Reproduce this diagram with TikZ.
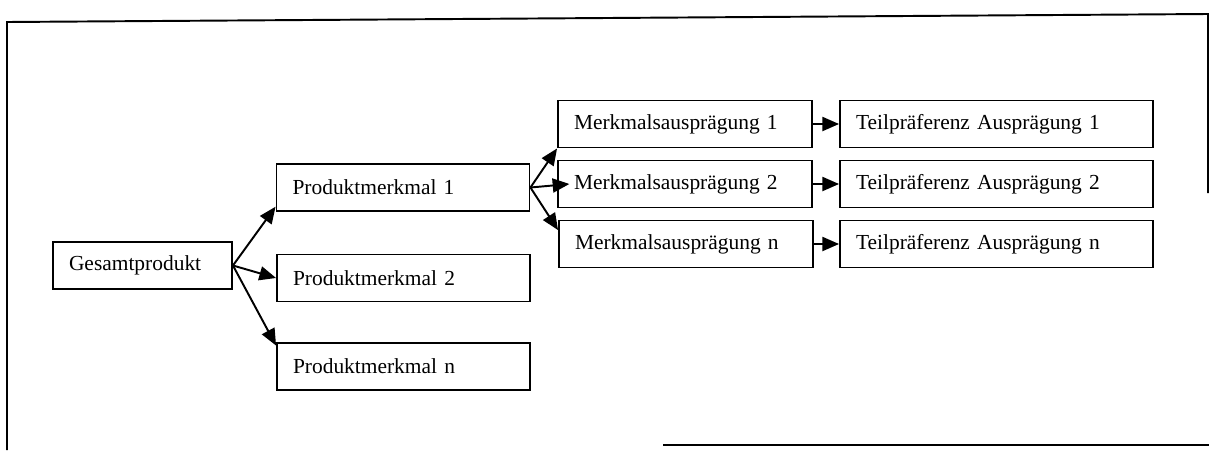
\documentclass[tikz,border=0pt]{standalone}
\usepackage{fontspec}
\setmainfont{Liberation Serif}
\usetikzlibrary{arrows.meta}

\begin{document}
\begin{tikzpicture}[x=0.02cm, y=-0.02cm,
    box/.style={rectangle, draw, line width=1.1pt, minimum height=0.94cm, text width=#1,
                align=left, inner xsep=0.32cm, font=\fontsize{12.2}{14}\selectfont},
    arr/.style={-{Triangle[length=9.5pt, width=8pt]}, line width=1.1pt},
    frame/.style={line width=1.1pt}
]
    \useasboundingbox (0,0) rectangle (1209,450);

    % frame of the scan
    \draw[frame] (7,450) -- (7,22) -- (1208,14) -- (1208,193);
    \draw[frame] (663,445) -- (1209,445);

    \node[box=2.94cm] (gesamt) at (142.5,265.5) {Gesamtprodukt};

    \node[box=4.42cm] (pm1) at (403,187.5) {Produktmerkmal 1};
    \node[box=4.42cm] (pm2) at (403.5,278) {Produktmerkmal 2};
    \node[box=4.42cm] (pmn) at (403.5,366.5) {Produktmerkmal n};

    \node[box=4.44cm] (ma1) at (685,124) {Merkmalsausprägung 1};
    \node[box=4.44cm] (ma2) at (685,184) {Merkmalsausprägung 2};
    \node[box=4.44cm] (man) at (686,244) {Merkmalsausprägung n};

    \node[box=5.62cm] (tp1) at (996.5,124) {Teilpräferenz Ausprägung 1};
    \node[box=5.62cm] (tp2) at (996.5,184) {Teilpräferenz Ausprägung 2};
    \node[box=5.62cm] (tpn) at (996.5,244) {Teilpräferenz Ausprägung n};

    \draw[arr] (gesamt.east) -- ([yshift=3pt]pm1.south west);
    \draw[arr] (gesamt.east) -- (pm2.west);
    \draw[arr] (gesamt.east) -- ([yshift=-2pt]pmn.north west);

    \draw[arr] (pm1.east) -- (ma1.south west);
    \draw[arr] (pm1.east) -- ([xshift=7pt]ma2.west);
    \draw[arr] (pm1.east) -- ([yshift=-6pt]man.north west);

    \draw[arr] (ma1) -- (tp1);
    \draw[arr] (ma2) -- (tp2);
    \draw[arr] (man) -- (tpn);
\end{tikzpicture}
\end{document}
